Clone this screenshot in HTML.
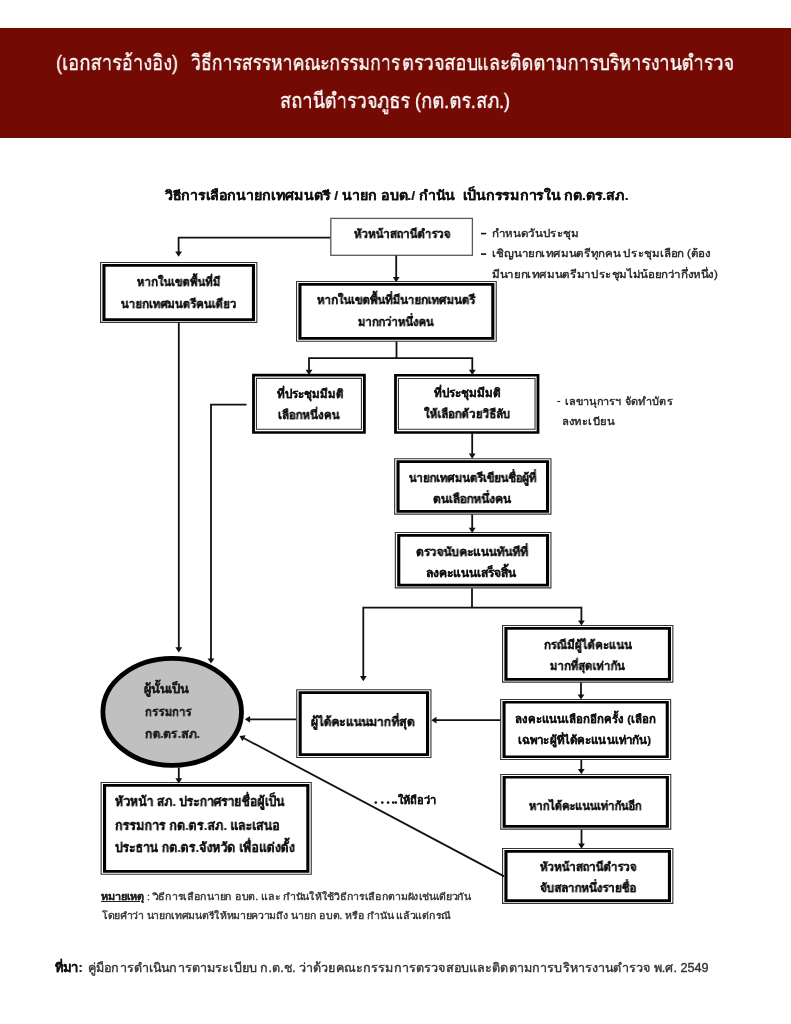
<!DOCTYPE html>
<html><head><meta charset="utf-8"><title>กต.ตร.สภ.</title><style>
html,body{margin:0;padding:0;background:#fff}
body{width:791px;height:1024px;position:relative;overflow:hidden;font-family:"Liberation Sans",sans-serif}
.band{position:absolute;left:0;top:28px;width:791px;height:110px;background:#730a03}
.t{position:absolute;white-space:nowrap;transform-origin:0 0;will-change:transform}
svg{position:absolute;left:0;top:0}
</style></head><body>
<div class="band"></div>
<svg width="791" height="1024" viewBox="0 0 791 1024">
<rect x="330.80" y="218.40" width="141.60" height="36.90" fill="#fff" stroke="#5a5a5a" stroke-width="1.3"/>
<rect x="100.00" y="262.00" width="157.40" height="60.90" fill="#fff"/>
<path d="M100.00,262.00 H257.40 V322.90 H100.00 Z M101.10,263.10 H256.30 V321.80 H101.10 Z" fill="#333" fill-rule="evenodd"/>
<path d="M102.40,264.00 H255.00 V320.90 H102.40 Z M105.50,266.70 H251.90 V318.20 H105.50 Z" fill="#000" fill-rule="evenodd"/>
<rect x="296.00" y="281.00" width="200.80" height="60.80" fill="#fff"/>
<path d="M296.00,281.00 H496.80 V341.80 H296.00 Z M297.10,282.10 H495.70 V340.70 H297.10 Z" fill="#333" fill-rule="evenodd"/>
<path d="M298.40,283.00 H494.40 V339.80 H298.40 Z M301.50,285.70 H491.30 V337.10 H301.50 Z" fill="#000" fill-rule="evenodd"/>
<rect x="252.10" y="373.80" width="113.70" height="60.00" fill="#fff"/>
<path d="M252.10,373.80 H365.80 V433.80 H252.10 Z M254.90,376.40 H363.00 V431.20 H254.90 Z" fill="#000" fill-rule="evenodd"/>
<path d="M255.90,377.80 H362.00 V429.80 H255.90 Z M257.00,378.90 H360.90 V428.70 H257.00 Z" fill="#333" fill-rule="evenodd"/>
<rect x="394.10" y="374.00" width="145.30" height="59.80" fill="#fff"/>
<path d="M394.10,374.00 H539.40 V433.80 H394.10 Z M396.90,376.60 H536.60 V431.20 H396.90 Z" fill="#000" fill-rule="evenodd"/>
<path d="M397.90,378.00 H535.60 V429.80 H397.90 Z M399.00,379.10 H534.50 V428.70 H399.00 Z" fill="#333" fill-rule="evenodd"/>
<rect x="394.10" y="458.20" width="157.40" height="56.50" fill="#fff"/>
<path d="M394.10,458.20 H551.50 V514.70 H394.10 Z M395.20,459.30 H550.40 V513.60 H395.20 Z" fill="#333" fill-rule="evenodd"/>
<path d="M396.50,460.20 H549.10 V512.70 H396.50 Z M399.60,462.90 H546.00 V510.00 H399.60 Z" fill="#000" fill-rule="evenodd"/>
<rect x="394.80" y="532.00" width="156.70" height="56.40" fill="#fff"/>
<path d="M394.80,532.00 H551.50 V588.40 H394.80 Z M395.90,533.10 H550.40 V587.30 H395.90 Z" fill="#333" fill-rule="evenodd"/>
<path d="M397.20,534.00 H549.10 V586.40 H397.20 Z M400.30,536.70 H546.00 V583.70 H400.30 Z" fill="#000" fill-rule="evenodd"/>
<rect x="502.00" y="625.00" width="171.40" height="57.70" fill="#fff"/>
<path d="M502.00,625.00 H673.40 V682.70 H502.00 Z M503.10,626.10 H672.30 V681.60 H503.10 Z" fill="#333" fill-rule="evenodd"/>
<path d="M504.40,627.00 H671.00 V680.70 H504.40 Z M507.50,629.70 H667.90 V678.00 H507.50 Z" fill="#000" fill-rule="evenodd"/>
<rect x="500.10" y="698.90" width="171.10" height="61.20" fill="#fff"/>
<path d="M500.10,698.90 H671.20 V760.10 H500.10 Z M501.20,700.00 H670.10 V759.00 H501.20 Z" fill="#333" fill-rule="evenodd"/>
<path d="M502.50,700.90 H668.80 V758.10 H502.50 Z M505.60,703.60 H665.70 V755.40 H505.60 Z" fill="#000" fill-rule="evenodd"/>
<rect x="500.20" y="773.90" width="171.10" height="55.80" fill="#fff"/>
<path d="M500.20,773.90 H671.30 V829.70 H500.20 Z M501.30,775.00 H670.20 V828.60 H501.30 Z" fill="#333" fill-rule="evenodd"/>
<path d="M502.60,775.90 H668.90 V827.70 H502.60 Z M505.70,778.60 H665.80 V825.00 H505.70 Z" fill="#000" fill-rule="evenodd"/>
<rect x="502.00" y="848.00" width="171.40" height="55.90" fill="#fff"/>
<path d="M502.00,848.00 H673.40 V903.90 H502.00 Z M503.10,849.10 H672.30 V902.80 H503.10 Z" fill="#333" fill-rule="evenodd"/>
<path d="M504.40,850.00 H671.00 V901.90 H504.40 Z M507.50,852.70 H667.90 V899.20 H507.50 Z" fill="#000" fill-rule="evenodd"/>
<rect x="296.20" y="689.20" width="135.30" height="68.80" fill="#fff"/>
<path d="M296.20,689.20 H431.50 V758.00 H296.20 Z M297.30,690.30 H430.40 V756.90 H297.30 Z" fill="#333" fill-rule="evenodd"/>
<path d="M298.60,691.20 H429.10 V756.00 H298.60 Z M301.70,693.90 H426.00 V753.30 H301.70 Z" fill="#000" fill-rule="evenodd"/>
<rect x="100.60" y="782.00" width="211.20" height="92.80" fill="#fff"/>
<path d="M100.60,782.00 H311.80 V874.80 H100.60 Z M101.70,783.10 H310.70 V873.70 H101.70 Z" fill="#333" fill-rule="evenodd"/>
<path d="M103.00,784.00 H309.40 V872.80 H103.00 Z M106.10,786.70 H306.30 V870.10 H106.10 Z" fill="#000" fill-rule="evenodd"/>
<path d="M330.30,237.70 L178.60,237.70 L178.60,252.00" fill="none" stroke="#111" stroke-width="1.8" stroke-linejoin="miter"/>
<path d="M178.60,256.80 L175.20,251.60 L182.00,251.60 Z" fill="#111"/>
<path d="M396.20,255.50 L396.20,278.00" fill="none" stroke="#111" stroke-width="1.8" stroke-linejoin="miter"/>
<path d="M396.20,282.20 L392.80,277.00 L399.60,277.00 Z" fill="#111"/>
<path d="M396.50,341.50 L396.50,358.20" fill="none" stroke="#111" stroke-width="1.8" stroke-linejoin="miter"/>
<path d="M309.00,370.00 L309.00,358.20 L472.30,358.20 L472.30,370.00" fill="none" stroke="#111" stroke-width="1.8" stroke-linejoin="miter"/>
<path d="M309.00,375.00 L305.60,369.80 L312.40,369.80 Z" fill="#111"/>
<path d="M472.30,375.00 L468.90,369.80 L475.70,369.80 Z" fill="#111"/>
<path d="M246.50,404.60 L211.00,404.60 L211.00,659.00" fill="none" stroke="#111" stroke-width="1.8" stroke-linejoin="miter"/>
<path d="M211.00,663.60 L207.60,658.40 L214.40,658.40 Z" fill="#111"/>
<path d="M178.80,322.50 L178.80,648.00" fill="none" stroke="#111" stroke-width="1.8" stroke-linejoin="miter"/>
<path d="M178.80,652.50 L175.40,647.30 L182.20,647.30 Z" fill="#111"/>
<path d="M472.20,433.50 L472.20,454.00" fill="none" stroke="#111" stroke-width="1.8" stroke-linejoin="miter"/>
<path d="M472.20,458.80 L468.80,453.60 L475.60,453.60 Z" fill="#111"/>
<path d="M472.20,514.50 L472.20,529.00" fill="none" stroke="#111" stroke-width="1.8" stroke-linejoin="miter"/>
<path d="M472.20,533.00 L468.80,527.80 L475.60,527.80 Z" fill="#111"/>
<path d="M472.00,588.30 L472.00,607.60" fill="none" stroke="#111" stroke-width="1.8" stroke-linejoin="miter"/>
<path d="M363.30,677.00 L363.30,607.60 L581.40,607.60 L581.40,621.00" fill="none" stroke="#111" stroke-width="1.8" stroke-linejoin="miter"/>
<path d="M363.30,681.20 L359.90,676.00 L366.70,676.00 Z" fill="#111"/>
<path d="M581.40,625.60 L578.00,620.40 L584.80,620.40 Z" fill="#111"/>
<path d="M581.00,682.50 L581.00,695.00" fill="none" stroke="#111" stroke-width="1.8" stroke-linejoin="miter"/>
<path d="M581.00,699.60 L577.60,694.40 L584.40,694.40 Z" fill="#111"/>
<path d="M500.40,720.20 L436.00,720.20" fill="none" stroke="#111" stroke-width="1.8" stroke-linejoin="miter"/>
<path d="M431.30,720.20 L436.50,716.80 L436.50,723.60 Z" fill="#111"/>
<path d="M581.30,759.80 L581.30,770.00" fill="none" stroke="#111" stroke-width="1.8" stroke-linejoin="miter"/>
<path d="M581.30,774.20 L577.90,769.00 L584.70,769.00 Z" fill="#111"/>
<path d="M581.50,829.60 L581.50,844.00" fill="none" stroke="#111" stroke-width="1.8" stroke-linejoin="miter"/>
<path d="M581.50,848.70 L578.10,843.50 L584.90,843.50 Z" fill="#111"/>
<path d="M296.20,719.30 L250.00,719.30" fill="none" stroke="#111" stroke-width="1.8" stroke-linejoin="miter"/>
<path d="M244.90,719.30 L250.10,715.90 L250.10,722.70 Z" fill="#111"/>
<path d="M504.10,876.40 L243.92,738.24" fill="none" stroke="#111" stroke-width="1.8" stroke-linejoin="miter"/>
<path d="M239.50,735.90 L245.69,735.34 L242.50,741.34 Z" fill="#111"/>
<path d="M178.80,767.50 L178.80,779.00" fill="none" stroke="#111" stroke-width="1.8" stroke-linejoin="miter"/>
<path d="M178.80,783.40 L175.40,778.20 L182.20,778.20 Z" fill="#111"/>
<rect x="481.0" y="232.8" width="5.2" height="1.6" fill="#111"/>
<rect x="481.0" y="253.3" width="5.2" height="1.6" fill="#111"/>
<rect x="557.2" y="400.9" width="3.0" height="1.2" fill="#333"/>
<circle cx="375.8" cy="802.6" r="1.3" fill="#111"/>
<circle cx="382.3" cy="802.6" r="1.3" fill="#111"/>
<circle cx="388.1" cy="802.6" r="1.3" fill="#111"/>
<circle cx="393.2" cy="802.6" r="1.3" fill="#111"/>
<circle cx="395.8" cy="802.6" r="1.3" fill="#111"/>
<ellipse cx="172.2" cy="711.9" rx="69.3" ry="53.5" fill="#c0c0c0" stroke="#000" stroke-width="4.8"/>
</svg>
<div class="t" id="t0" style="left:55.51px;top:47.06px;font-size:21.03px;line-height:31.55px;font-weight:normal;color:#fff;transform:scaleX(0.8655);-webkit-text-stroke:0.35px currentColor;">(เอกสารอ้างอิง)</div>
<div class="t" id="t1" style="left:191.45px;top:47.06px;font-size:21.03px;line-height:31.55px;font-weight:normal;color:#fff;transform:scaleX(0.8331);-webkit-text-stroke:0.35px currentColor;">วิธีการสรรหาคณะกรรมการ</div>
<div class="t" id="t2" style="left:401.70px;top:47.06px;font-size:21.03px;line-height:31.55px;font-weight:normal;color:#fff;transform:scaleX(0.8628);-webkit-text-stroke:0.35px currentColor;">ตรวจสอบ</div>
<div class="t" id="t3" style="left:477.29px;top:47.06px;font-size:21.03px;line-height:31.55px;font-weight:normal;color:#fff;transform:scaleX(0.8562);-webkit-text-stroke:0.35px currentColor;">และติดตามการบริหารงานตำรวจ</div>
<div class="t" id="t4" style="left:279.58px;top:84.86px;font-size:21.03px;line-height:31.55px;font-weight:normal;color:#fff;transform:scaleX(0.8604);-webkit-text-stroke:0.35px currentColor;">สถานีตำรวจภูธร (กต.ตร.สภ.)</div>
<div class="t" id="t5" style="left:164.68px;top:186.06px;font-size:12.93px;line-height:19.40px;font-weight:bold;color:#111;transform:scaleX(1.0946);-webkit-text-stroke:0.2px currentColor;">วิธีการเลือกนายกเทศมนตรี / นายก อบต./ กำนัน&nbsp; เป็นกรรมการใน กต.ตร.สภ.</div>
<div class="t" id="t6" style="left:353.58px;top:224.86px;font-size:12.07px;line-height:18.10px;font-weight:bold;color:#111;transform:scaleX(0.9451);-webkit-text-stroke:0.2px currentColor;">หัวหน้าสถานีตำรวจ</div>
<div class="t" id="t7" style="left:491.79px;top:225.53px;font-size:10.52px;line-height:15.78px;font-weight:normal;color:#222;transform:scaleX(1.0987);-webkit-text-stroke:0.35px currentColor;">กำหนดวันประชุม</div>
<div class="t" id="t8" style="left:491.79px;top:246.03px;font-size:10.52px;line-height:15.78px;font-weight:normal;color:#222;transform:scaleX(1.0960);-webkit-text-stroke:0.35px currentColor;">เชิญนายกเทศมนตรีทุกคน ประชุมเลือก (ต้อง</div>
<div class="t" id="t9" style="left:491.84px;top:267.03px;font-size:10.52px;line-height:15.78px;font-weight:normal;color:#222;transform:scaleX(1.0985);-webkit-text-stroke:0.35px currentColor;">มีนายกเทศมนตรีมาประชุมไม่น้อยกว่ากึ่งหนึ่ง)</div>
<div class="t" id="t10" style="left:137.39px;top:273.34px;font-size:11.72px;line-height:17.59px;font-weight:bold;color:#111;transform:scaleX(0.9489);-webkit-text-stroke:0.2px currentColor;">หากในเขตพื้นที่มี</div>
<div class="t" id="t11" style="left:121.20px;top:295.04px;font-size:11.72px;line-height:17.59px;font-weight:bold;color:#111;transform:scaleX(0.9647);-webkit-text-stroke:0.2px currentColor;">นายกเทศมนตรีคนเดียว</div>
<div class="t" id="t12" style="left:317.00px;top:291.46px;font-size:12.07px;line-height:18.10px;font-weight:bold;color:#111;transform:scaleX(0.9464);-webkit-text-stroke:0.2px currentColor;">หากในเขตพื้นที่มีนายกเทศมนตรี</div>
<div class="t" id="t13" style="left:358.00px;top:312.56px;font-size:12.07px;line-height:18.10px;font-weight:bold;color:#111;transform:scaleX(0.9321);-webkit-text-stroke:0.2px currentColor;">มากกว่าหนึ่งคน</div>
<div class="t" id="t14" style="left:276.80px;top:385.04px;font-size:11.72px;line-height:17.59px;font-weight:bold;color:#111;transform:scaleX(0.9970);-webkit-text-stroke:0.2px currentColor;">ที่ประชุมมีมติ</div>
<div class="t" id="t15" style="left:278.41px;top:406.14px;font-size:11.72px;line-height:17.59px;font-weight:bold;color:#111;transform:scaleX(0.9778);-webkit-text-stroke:0.2px currentColor;">เลือกหนึ่งคน</div>
<div class="t" id="t16" style="left:433.60px;top:384.34px;font-size:11.72px;line-height:17.59px;font-weight:bold;color:#111;transform:scaleX(1.0000);-webkit-text-stroke:0.2px currentColor;">ที่ประชุมมีมติ</div>
<div class="t" id="t17" style="left:424.00px;top:405.44px;font-size:11.72px;line-height:17.59px;font-weight:bold;color:#111;transform:scaleX(0.9618);-webkit-text-stroke:0.2px currentColor;">ให้เลือกด้วยวิธีลับ</div>
<div class="t" id="t18" style="left:564.82px;top:393.97px;font-size:10.34px;line-height:15.52px;font-weight:normal;color:#222;transform:scaleX(1.0510);-webkit-text-stroke:0.35px currentColor;">เลขานุการฯ จัดทำบัตร</div>
<div class="t" id="t19" style="left:561.86px;top:414.27px;font-size:10.34px;line-height:15.52px;font-weight:normal;color:#222;transform:scaleX(1.0936);-webkit-text-stroke:0.35px currentColor;">ลงทะเบียน</div>
<div class="t" id="t20" style="left:409.39px;top:468.66px;font-size:12.07px;line-height:18.10px;font-weight:bold;color:#111;transform:scaleX(0.9368);-webkit-text-stroke:0.2px currentColor;">นายกเทศมนตรีเขียนชื่อผู้ที่</div>
<div class="t" id="t21" style="left:433.00px;top:490.26px;font-size:12.07px;line-height:18.10px;font-weight:bold;color:#111;transform:scaleX(0.9861);-webkit-text-stroke:0.2px currentColor;">ตนเลือกหนึ่งคน</div>
<div class="t" id="t22" style="left:416.20px;top:543.46px;font-size:12.07px;line-height:18.10px;font-weight:bold;color:#111;transform:scaleX(0.9842);-webkit-text-stroke:0.2px currentColor;">ตรวจนับคะแนนทันทีที่</div>
<div class="t" id="t23" style="left:426.00px;top:564.26px;font-size:12.07px;line-height:18.10px;font-weight:bold;color:#111;transform:scaleX(0.9989);-webkit-text-stroke:0.2px currentColor;">ลงคะแนนเสร็จสิ้น</div>
<div class="t" id="t24" style="left:543.79px;top:636.04px;font-size:11.72px;line-height:17.59px;font-weight:bold;color:#111;transform:scaleX(0.9670);-webkit-text-stroke:0.2px currentColor;">กรณีมีผู้ได้คะแนน</div>
<div class="t" id="t25" style="left:550.03px;top:657.44px;font-size:11.72px;line-height:17.59px;font-weight:bold;color:#111;transform:scaleX(0.9468);-webkit-text-stroke:0.2px currentColor;">มากที่สุดเท่ากัน</div>
<div class="t" id="t26" style="left:515.00px;top:711.13px;font-size:11.38px;line-height:17.07px;font-weight:bold;color:#111;transform:scaleX(1.0014);-webkit-text-stroke:0.2px currentColor;">ลงคะแนนเลือกอีกครั้ง (เลือก</div>
<div class="t" id="t27" style="left:518.19px;top:731.83px;font-size:11.38px;line-height:17.07px;font-weight:bold;color:#111;transform:scaleX(1.0185);-webkit-text-stroke:0.2px currentColor;">เฉพาะผู้ที่ได้คะแนนเท่ากัน)</div>
<div class="t" id="t28" style="left:529.38px;top:797.06px;font-size:12.07px;line-height:18.10px;font-weight:bold;color:#111;transform:scaleX(0.9205);-webkit-text-stroke:0.2px currentColor;">หากได้คะแนนเท่ากันอีก</div>
<div class="t" id="t29" style="left:539.58px;top:858.26px;font-size:12.07px;line-height:18.10px;font-weight:bold;color:#111;transform:scaleX(0.9461);-webkit-text-stroke:0.2px currentColor;">หัวหน้าสถานีตำรวจ</div>
<div class="t" id="t30" style="left:539.59px;top:878.76px;font-size:12.07px;line-height:18.10px;font-weight:bold;color:#111;transform:scaleX(0.9610);-webkit-text-stroke:0.2px currentColor;">จับสลากหนึ่งรายชื่อ</div>
<div class="t" id="t31" style="left:310.59px;top:713.48px;font-size:12.41px;line-height:18.62px;font-weight:bold;color:#111;transform:scaleX(0.9692);-webkit-text-stroke:0.2px currentColor;">ผู้ได้คะแนนมากที่สุด</div>
<div class="t" id="t32" style="left:144.19px;top:679.78px;font-size:12.41px;line-height:18.62px;font-weight:bold;color:#1a1a1a;transform:scaleX(1.0341);-webkit-text-stroke:0.2px currentColor;">ผู้นั้นเป็น</div>
<div class="t" id="t33" style="left:144.62px;top:702.98px;font-size:12.41px;line-height:18.62px;font-weight:bold;color:#1a1a1a;transform:scaleX(0.9000);-webkit-text-stroke:0.2px currentColor;">กรรมการ</div>
<div class="t" id="t34" style="left:144.61px;top:725.18px;font-size:12.41px;line-height:18.62px;font-weight:bold;color:#1a1a1a;transform:scaleX(0.9544);-webkit-text-stroke:0.2px currentColor;">กต.ตร.สภ.</div>
<div class="t" id="t35" style="left:115.23px;top:791.82px;font-size:13.10px;line-height:19.66px;font-weight:bold;color:#111;transform:scaleX(0.9308);-webkit-text-stroke:0.2px currentColor;">หัวหน้า สภ. ประกาศรายชื่อผู้เป็น</div>
<div class="t" id="t36" style="left:115.22px;top:815.72px;font-size:13.10px;line-height:19.66px;font-weight:bold;color:#111;transform:scaleX(0.9529);-webkit-text-stroke:0.2px currentColor;">กรรมการ กต.ตร.สภ. และเสนอ</div>
<div class="t" id="t37" style="left:115.23px;top:838.22px;font-size:13.10px;line-height:19.66px;font-weight:bold;color:#111;transform:scaleX(0.9349);-webkit-text-stroke:0.2px currentColor;">ประธาน กต.ตร.จังหวัด เพื่อแต่งตั้ง</div>
<div class="t" id="t38" style="left:397.80px;top:791.71px;font-size:11.03px;line-height:16.55px;font-weight:bold;color:#111;transform:scaleX(1.0026);-webkit-text-stroke:0.2px currentColor;">ให้ถือว่า</div>
<div class="t" id="t39" style="left:101.14px;top:890.51px;font-size:9.31px;line-height:13.97px;font-weight:bold;color:#222;transform:scaleX(1.1595);text-decoration:underline;-webkit-text-stroke:0.2px currentColor;">หมายเหตุ</div>
<div class="t" id="t40" style="left:147.15px;top:890.71px;font-size:9.31px;line-height:13.97px;font-weight:normal;color:#333;transform:scaleX(1.1308);-webkit-text-stroke:0.35px currentColor;">: วิธีการเลือกนายก อบต. และ กำนันให้ใช้วิธีการเลือกตามผังเช่นเดียวกัน</div>
<div class="t" id="t41" style="left:102.00px;top:910.21px;font-size:9.31px;line-height:13.97px;font-weight:normal;color:#333;transform:scaleX(1.1268);-webkit-text-stroke:0.35px currentColor;">โดยคำว่า นายกเทศมนตรีให้หมายความถึง นายก อบต. หรือ กำนัน แล้วแต่กรณี</div>
<div class="t" id="t42" style="left:55.39px;top:958.10px;font-size:12.76px;line-height:19.14px;font-weight:bold;color:#111;transform:scaleX(1.0192);-webkit-text-stroke:0.2px currentColor;">ที่มา:</div>
<div class="t" id="t43" style="left:87.59px;top:959.08px;font-size:12.41px;line-height:18.62px;font-weight:normal;color:#333;transform:scaleX(1.0179);-webkit-text-stroke:0.35px currentColor;">คู่มือการดำเนินการตามระเบียบ ก.ต.ช. ว่าด้วยคณะกรรมการตรวจสอบและติดตามการบริหารงานตำรวจ พ.ศ. 2549</div>
<script>
(function(){
  var T=[[56.2,176.5],[191.7,400.8],[402.3,476.5],[479.0,733.3],[280.7,508.7],[163.8,627.9],[353.3,449.7],[491.9,577.6],[491.9,710.0],[491.4,716.6],[137.2,220.7],[121.1,235.9],[317.0,476.0],[358.0,433.5],[276.4,342.2],[278.7,340.3],[433.8,499.8],[424.0,509.6],[564.4,671.6],[563.5,614.9],[409.2,536.6],[433.0,510.9],[416.1,528.3],[427.5,516.4],[543.4,631.4],[550.5,625.3],[515.0,656.2],[518.6,651.0],[529.2,641.5],[539.3,635.8],[539.3,635.4],[310.3,414.0],[144.6,190.1],[144.8,191.6],[144.8,199.2],[115.6,285.0],[115.6,279.5],[115.6,295.1],[397.4,435.5],[101.6,144.5],[147.6,471.0],[102.0,451.3],[55.7,82.2],[88.3,707.2]];
  var els=document.querySelectorAll('.t');
  for(var i=0;i<els.length&&i<T.length;i++){
    var e=els[i], tw=T[i][1]-T[i][0];
    var w=e.getBoundingClientRect().width;
    if(!(w>0) || Math.abs(w-tw)>tw*0.12){
      e.style.transform='none';
      var nw=e.getBoundingClientRect().width;
      if(nw>0){ e.style.left=T[i][0]+'px'; e.style.transform='scaleX('+(tw/nw)+')'; }
    }
  }
})();
</script>
</body></html>
